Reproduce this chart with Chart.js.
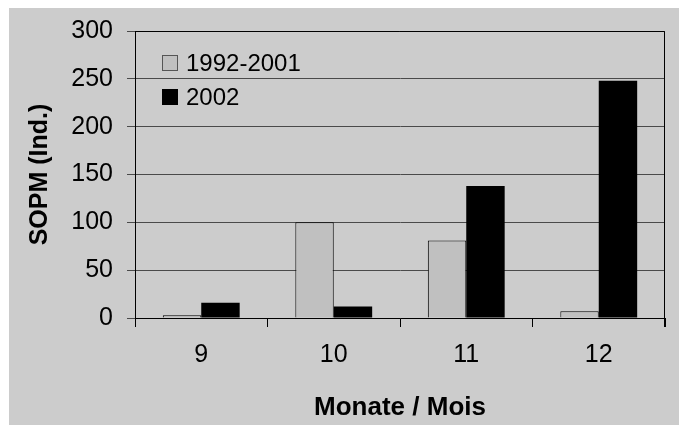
<!DOCTYPE html>
<html lang="de">
<head>
    <meta charset="UTF-8">
    <title>SOPM nach Monat</title>
    <script src="https://cdn.jsdelivr.net/npm/chart.js@4.4.1/dist/chart.umd.min.js"></script>
    <style>
        body { margin: 0; padding: 0; background: #ffffff; }
        .chart-container { position: relative; width: 679px; height: 425px; }
    </style>
</head>
<body>
    <div class="chart-container">
        <canvas id="sopm-chart" width="679" height="425"></canvas>
    </div>

    <script>
        // Data
        const months = ['9', '10', '11', '12'];
        const longTerm = [3, 100, 81, 7];     // 1992-2001
        const year2002 = [16, 12, 138, 248];  // 2002
        const seriesLabels = ['1992-2001', '2002'];

        const FONT = 'Arial, "Liberation Sans", sans-serif';

        // grey panel behind everything, plus the box round the plot area
        const panel = {
            id: 'panel',
            beforeDraw(chart) {
                const ctx = chart.ctx;
                ctx.save();
                ctx.fillStyle = '#cccccc';
                ctx.fillRect(9, 8, chart.width - 9, chart.height - 8);
                ctx.restore();
            },
            afterDatasetsDraw(chart) {
                const {ctx, chartArea: a} = chart;
                ctx.save();
                ctx.strokeStyle = '#000000';
                ctx.lineWidth = 1;
                ctx.beginPath();
                ctx.moveTo(a.left, a.top + 0.5);
                ctx.lineTo(a.right - 0.5, a.top + 0.5);
                ctx.lineTo(a.right - 0.5, a.bottom + 9);
                ctx.stroke();
                ctx.restore();
            }
        };

        // legend drawn inside the plot, top left
        const innerLegend = {
            id: 'innerLegend',
            afterDraw(chart) {
                const ctx = chart.ctx;
                ctx.save();
                ctx.font = '24px ' + FONT;
                ctx.textBaseline = 'middle';
                chart.data.datasets.forEach((ds, i) => {
                    const y = 63 + i * 34;
                    ctx.fillStyle = ds.backgroundColor;
                    ctx.fillRect(162, y - 8, 16, 16);
                    ctx.strokeStyle = i === 0 ? '#555555' : '#000000';
                    ctx.lineWidth = 1;
                    ctx.strokeRect(162.5, y - 7.5, 15, 15);
                    ctx.fillStyle = '#000000';
                    ctx.fillText(ds.label, 186, y + 1);
                });
                ctx.restore();
            }
        };

        new Chart(document.getElementById('sopm-chart'), {
            type: 'bar',
            data: {
                labels: months,
                datasets: [
                    {
                        label: seriesLabels[0],
                        data: longTerm,
                        backgroundColor: '#c0c0c0',
                        borderColor: '#000000',
                        borderWidth: 1,
                        barPercentage: 1,
                        categoryPercentage: 0.58
                    },
                    {
                        label: seriesLabels[1],
                        data: year2002,
                        backgroundColor: '#000000',
                        borderColor: '#000000',
                        borderWidth: 0,
                        barPercentage: 1,
                        categoryPercentage: 0.58
                    }
                ]
            },
            options: {
                responsive: false,
                animation: false,
                layout: { padding: { left: 9, right: 14, top: 31, bottom: 0 } },
                plugins: {
                    legend: { display: false },
                    tooltip: { enabled: false }
                },
                scales: {
                    x: {
                        afterFit(scale) { scale.height = 107; },
                        grid: {
                            drawOnChartArea: false,
                            drawTicks: true,
                            tickLength: 9,
                            color: '#000000'
                        },
                        border: { color: '#000000' },
                        ticks: {
                            color: '#000000',
                            font: { family: FONT, size: 25 },
                            padding: 13
                        },
                        title: {
                            display: true,
                            text: 'Monate / Mois',
                            color: '#000000',
                            font: { family: FONT, size: 26, weight: 'bold' },
                            padding: { top: 0, bottom: 2 }
                        }
                    },
                    y: {
                        min: 0,
                        max: 300,
                        afterFit(scale) { scale.width = 126; },
                        grid: {
                            color: '#4a4a4a',
                            tickLength: 8,
                            drawTicks: true
                        },
                        border: { color: '#000000' },
                        ticks: {
                            stepSize: 50,
                            color: '#000000',
                            font: { family: FONT, size: 25 },
                            padding: 14
                        },
                        title: {
                            display: true,
                            text: 'SOPM (Ind.)',
                            color: '#000000',
                            font: { family: FONT, size: 25, weight: 'bold' },
                            padding: { top: 16, bottom: 0 }
                        }
                    }
                }
            },
            plugins: [panel, innerLegend]
        });
    </script>
</body>
</html>
